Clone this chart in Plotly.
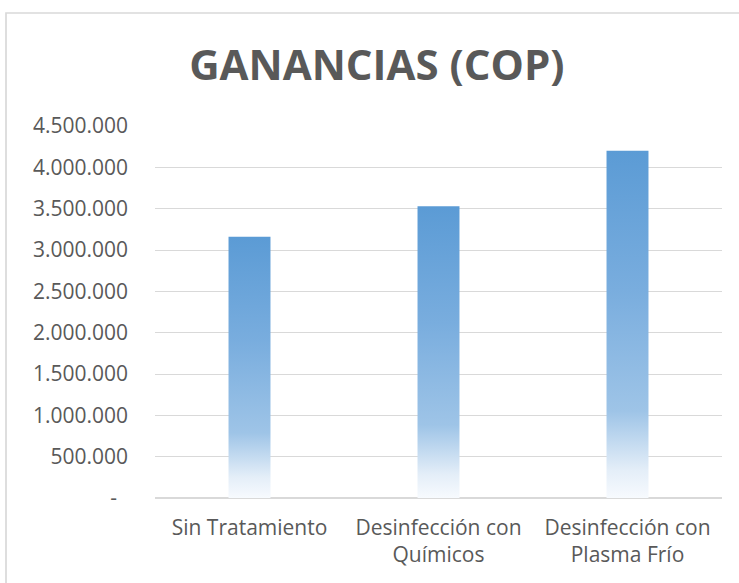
import plotly.graph_objects as go

categories = ["Sin Tratamiento", "Desinfección con<br>Químicos", "Desinfección con<br>Plasma Frío"]
ganancias = [3160000, 3530000, 4200000]
y_tickvals = [0, 500000, 1000000, 1500000, 2000000, 2500000, 3000000, 3500000, 4000000, 4500000]
y_ticktext = ["-\u00a0\u00a0", "500.000", "1.000.000", "1.500.000", "2.000.000", "2.500.000",
              "3.000.000", "3.500.000", "4.000.000", "4.500.000"]

BAR_HALF = 0.111
GRAD = [[0.0, "rgb(247,250,254)"], [0.08, "rgb(228,238,248)"], [0.25, "rgb(158,196,231)"],
        [0.6, "rgb(121,173,222)"], [1.0, "rgb(91,155,213)"]]

fig = go.Figure()
for i, (cat, v) in enumerate(zip(categories, ganancias)):
    fig.add_trace(go.Scatter(
        x=[i - BAR_HALF, i - BAR_HALF, i + BAR_HALF, i + BAR_HALF, i - BAR_HALF],
        y=[0, v, v, 0, 0],
        mode="lines", fill="toself", line=dict(width=0),
        fillgradient=dict(type="vertical", colorscale=GRAD),
        name=cat.replace("<br>", " "), showlegend=False, hoveron="fills",
    ))

W, H = 739, 583
L, R, T, B = 155, 17, 126, 85
pw, ph = W - L - R, H - T - B
fig.update_layout(
    width=W, height=H,
    margin=dict(l=L, r=R, t=T, b=B),
    paper_bgcolor="white", plot_bgcolor="white",
    font=dict(family="Open Sans", size=21, color="#595959"),
    title=dict(text="<b>GANANCIAS (COP)</b>", x=0.51, xanchor="center", y=1 - 80 / H, yanchor="bottom",
               font=dict(family="Open Sans", size=42, color="#595959")),
    xaxis=dict(range=[-0.5, 2.5], tickvals=list(range(len(categories))), ticktext=categories,
               showgrid=False, zeroline=False, showline=False, ticks="", ticklabelstandoff=15,
               fixedrange=True),
    yaxis=dict(range=[0, 4500000], tickvals=y_tickvals, ticktext=y_ticktext,
               showgrid=True, gridcolor="#d9d9d9", gridwidth=1.3, zeroline=True,
               zerolinecolor="#d9d9d9", zerolinewidth=1.5, showline=False, ticks="",
               ticklabelstandoff=26, fixedrange=True),
    shapes=[dict(type="rect", xref="paper", yref="paper",
                 x0=(6 - L) / pw, x1=(W + 10 - L) / pw,
                 y0=(H - B - (H + 10)) / ph, y1=(H - B - 13) / ph,
                 line=dict(color="#d9d9d9", width=1.7), fillcolor="rgba(0,0,0,0)", layer="below")],
)
fig.write_html("out.html", config={"displayModeBar": False},
               post_script="document.body.style.margin='0';")
